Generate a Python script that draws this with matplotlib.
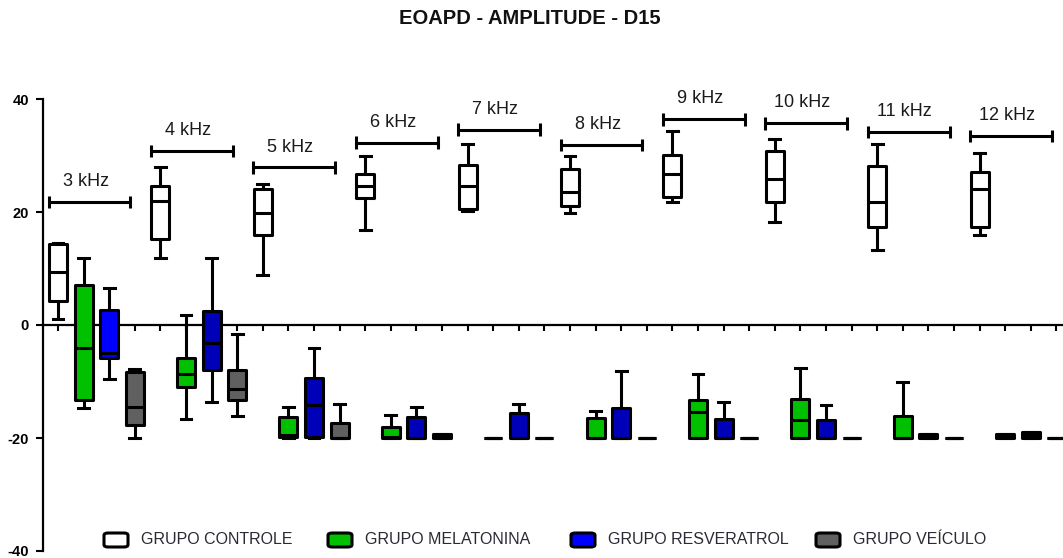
import matplotlib
matplotlib.use("Agg")
import matplotlib.pyplot as plt
from matplotlib.patches import FancyBboxPatch

plt.rcParams['font.family'] = ['Liberation Sans', 'DejaVu Sans']

# Frequencies and groups
freqs = ["3 kHz", "4 kHz", "5 kHz", "6 kHz", "7 kHz", "8 kHz", "9 kHz", "10 kHz", "11 kHz", "12 kHz"]
groups = ["GRUPO CONTROLE", "GRUPO MELATONINA", "GRUPO RESVERATROL", "GRUPO VEÍCULO"]
group_colors = ["#FFFFFF", "#00C000", "#0000FF", "#606060"]

# Box statistics per frequency: (whisker low, q1, median, q3, whisker high)
controle = [
    (1.0, 4.2, 9.4, 14.3, 14.5),
    (11.8, 15.3, 22.0, 24.6, 27.9),
    (8.9, 15.9, 19.8, 24.0, 25.0),
    (16.8, 22.5, 24.6, 26.8, 29.9),
    (20.1, 20.6, 24.6, 28.3, 32.0),
    (19.9, 21.0, 23.5, 27.6, 29.9),
    (21.8, 22.6, 26.7, 30.1, 34.4),
    (18.3, 21.7, 25.9, 30.8, 32.9),
    (13.3, 17.3, 21.7, 28.1, 32.0),
    (15.9, 17.3, 24.0, 27.0, 30.4),
]
melatonina = [
    (-14.7, -13.2, -4.0, 7.1, 11.8),
    (-16.6, -11.0, -8.7, -5.9, 1.8),
    (-20.0, -19.9, -19.5, -16.3, -14.6),
    (-20.0, -20.0, -19.8, -18.0, -16.0),
    (-20.0, -20.0, -20.0, -20.0, -20.0),
    (-20.0, -20.0, -20.0, -16.5, -15.2),
    (-20.0, -20.0, -15.4, -13.3, -8.7),
    (-20.0, -20.0, -16.8, -13.1, -7.6),
    (-20.0, -20.0, -20.0, -16.1, -10.1),
    (-20.0, -20.0, -19.7, -19.3, -19.3),
]
resveratrol = [
    (-9.6, -5.8, -5.0, 2.6, 6.5),
    (-13.7, -8.0, -3.1, 2.5, 11.8),
    (-20.0, -19.8, -14.2, -9.3, -4.0),
    (-20.0, -20.0, -20.0, -16.2, -14.6),
    (-20.0, -20.0, -20.0, -15.6, -14.0),
    (-20.0, -20.0, -20.0, -14.7, -8.2),
    (-20.0, -20.0, -20.0, -16.6, -13.7),
    (-20.0, -20.0, -20.0, -16.9, -14.1),
    (-20.0, -20.0, -19.7, -19.3, -19.3),
    (-20.0, -20.0, -19.5, -18.9, -18.9),
]
veiculo = [
    (-20.0, -17.7, -14.5, -8.3, -7.8),
    (-16.1, -13.2, -11.4, -7.9, -1.6),
    (-20.0, -20.0, -20.0, -17.3, -14.0),
    (-20.0, -20.0, -19.7, -19.3, -19.3),
    (-20.0, -20.0, -20.0, -20.0, -20.0),
    (-20.0, -20.0, -20.0, -20.0, -20.0),
    (-20.0, -20.0, -20.0, -20.0, -20.0),
    (-20.0, -20.0, -20.0, -20.0, -20.0),
    (-20.0, -20.0, -20.0, -20.0, -20.0),
    (-20.0, -20.0, -20.0, -20.0, -20.0),
]
# Height of each frequency bracket
bracket_y = [21.8, 30.8, 27.9, 32.3, 34.6, 31.9, 36.4, 35.7, 34.2, 33.5]

series = [controle, melatonina, resveratrol, veiculo]
n_groups = len(groups)

fig = plt.figure(figsize=(10.63, 5.58), dpi=100)
ax = fig.add_axes([43 / 1063, 7 / 558, 1020 / 1063, 452 / 558])

lw = 2.2
for g, data in enumerate(series):
    stats = []
    positions = []
    colors = []
    for f, (wlo, q1, med, q3, whi) in enumerate(data):
        stats.append(dict(whislo=wlo, q1=q1, med=med, q3=q3, whishi=whi, fliers=[]))
        positions.append(1 + f * n_groups + g)
        c = group_colors[g]
        if g == 2 and f > 0:
            c = "#0000B8"
        colors.append(c)
    bp = ax.bxp(stats, positions=positions, widths=0.7, capwidths=0.42,
                patch_artist=True, showfliers=False, manage_ticks=False,
                boxprops=dict(linewidth=lw, edgecolor="black"),
                whiskerprops=dict(linewidth=lw, color="black", solid_capstyle="butt"),
                capprops=dict(linewidth=lw, color="black"),
                medianprops=dict(linewidth=lw, color="black", solid_capstyle="butt"))
    for patch, c in zip(bp["boxes"], colors):
        patch.set_facecolor(c)
        patch.set_joinstyle("round")
    for w in bp["whiskers"]:
        w.set_zorder(1.5)

# Frequency brackets with labels
for f, (name, yb) in enumerate(zip(freqs, bracket_y)):
    x0 = 1 + f * n_groups - 0.37
    x1 = x0 + 3.2
    ax.plot([x0, x1], [yb, yb], color="black", lw=lw, solid_capstyle="butt")
    ax.plot([x0, x0], [yb - 1.1, yb + 1.1], color="black", lw=lw, solid_capstyle="butt")
    ax.plot([x1, x1], [yb - 1.1, yb + 1.1], color="black", lw=lw, solid_capstyle="butt")
    ax.text((x0 + x1) / 2 - 0.15, yb + 2.1, name, ha="center", va="bottom",
            fontsize=13, color="#1a1a1a")

ax.set_xlim(0.414, 40.26)
ax.set_ylim(-40, 40)

ax.spines["top"].set_visible(False)
ax.spines["right"].set_visible(False)
ax.spines["bottom"].set_position(("data", 0))
ax.spines["bottom"].set_linewidth(1.6)
ax.spines["left"].set_linewidth(1.6)
ax.spines["bottom"].set_zorder(0.5)

ax.set_xticks(range(1, n_groups * len(freqs) + 1))
ax.set_xticklabels([])
ax.tick_params(axis="x", direction="out", length=4, width=1.5)
ax.set_yticks([-40, -20, 0, 20, 40])
ax.set_yticklabels(["-40", "-20", "0", "20", "40"], fontweight="bold", fontsize=10.5)
ax.tick_params(axis="y", direction="out", length=5, width=1.5, pad=5)

fig.text(0.4986, 0.966, "EOAPD - AMPLITUDE - D15", ha="center", va="center",
         fontsize=14.5, fontweight="bold", color="#111111")

# Legend row
legend_x = [104, 328, 571, 816]
for g, name in enumerate(groups):
    x = legend_x[g] / 1063
    fig.patches.append(FancyBboxPatch((x, 1 - 547 / 558), 24 / 1063, 14 / 558,
                                      boxstyle="round,pad=0,rounding_size=0.004",
                                      transform=fig.transFigure, facecolor=group_colors[g],
                                      edgecolor="black", linewidth=2.2))
    fig.text(x + 37 / 1063, 1 - 539.5 / 558, name, ha="left", va="center",
             fontsize=11.5, color="#2a2a36")

fig.savefig("out.png", dpi=100)
